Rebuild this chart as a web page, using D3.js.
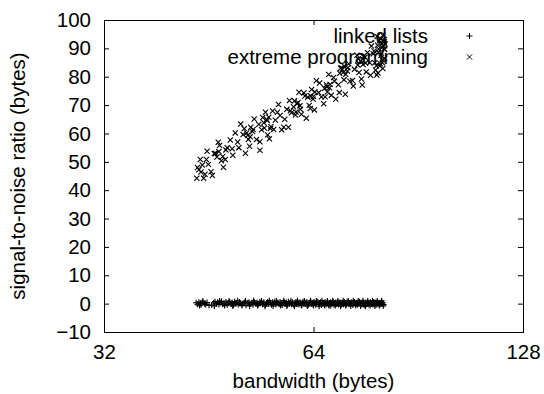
<!DOCTYPE html>
<html>
<head>
<meta charset="utf-8">
<script src="https://cdn.jsdelivr.net/npm/d3@7"></script>
<style>
  html, body { margin: 0; padding: 0; background: #fff; }
  svg { display: block; }
  text { font-family: "Liberation Sans", Arial, Helvetica, sans-serif; fill: #000; }
</style>
</head>
<body>
<svg id="chart" width="544" height="394"></svg>
<script>
// ---- data ----
const seriesNames = ["linked lists", "extreme programming"];
const xTickValues = [32, 64, 128];
const yTickValues = [-10, 0, 10, 20, 30, 40, 50, 60, 70, 80, 90, 100];
const xLabel = "bandwidth (bytes)";
const yLabel = "signal-to-noise ratio (bytes)";

const linkedLists = [
[43.4,0.3],[43.6,-0.2],[43.8,0.5],[44.0,0.1],[44.1,-0.4],[44.3,0.6],[44.6,0.0],[44.8,-0.3],[45.0,0.4],[45.3,-0.6],
[45.7,-0.5],[46.0,0.2],[46.2,0.7],[46.4,-0.1],[46.6,0.5],[46.8,-0.3],[47.0,0.3],[47.2,0.8],[47.4,-0.2],[47.6,0.1],
[47.9,0.6],[48.1,-0.4],[48.3,0.2],[48.5,0.5],[48.7,-0.1],[48.9,0.4],[49.1,-0.5],[49.3,0.7],[49.5,0.0],[49.7,0.3],
[49.9,-0.3],[50.1,0.6],[50.3,0.1],[50.6,-0.2],[50.9,0.4],[51.2,-0.6],[51.5,0.2],[51.7,0.5],[51.9,-0.1],[52.2,0.3],
[52.4,-0.4],[52.6,0.6],[52.9,0.0],[53.1,0.4],[53.3,-0.3],[53.6,0.7],[53.8,0.1],[54.1,-0.2],[54.3,0.5],[54.6,-0.5],
[54.8,0.2],[55.0,0.6],[55.2,-0.1],[55.5,0.3],[55.7,-0.4],[55.9,0.5],[56.1,0.0],[56.3,0.7],[56.5,-0.3],[56.7,0.2],
[56.9,0.4],[57.1,-0.2],[57.3,0.6],[57.5,0.1],[57.7,-0.5],[57.9,0.3],[58.1,0.5],[58.3,-0.1],[58.5,0.4],[58.7,-0.4],
[58.9,0.7],[59.1,0.0],[59.3,0.3],[59.5,-0.2],[59.7,0.5],[60.0,-0.6],[60.2,0.2],[60.4,0.6],[60.6,-0.1],[60.8,0.3],
[61.0,-0.3],[61.2,0.5],[61.4,0.1],[61.6,-0.4],[61.8,0.7],[62.0,0.0],[62.2,0.4],[62.4,-0.2],[62.6,0.6],[62.9,-0.5],
[63.1,0.2],[63.3,0.5],[63.5,-0.1],[63.7,0.3],[63.9,-0.3],[64.1,0.6],[64.3,0.1],[64.5,-0.4],[64.7,0.4],[64.9,0.7],
[65.1,-0.2],[65.3,0.2],[65.5,0.5],[65.7,-0.5],[65.9,0.0],[66.1,0.3],[66.3,-0.1],[66.5,0.6],[66.7,-0.3],[66.9,0.2],
[67.1,0.4],[67.3,-0.6],[67.5,0.1],[67.7,0.5],[67.9,-0.2],[68.1,0.3],[68.3,0.7],[68.5,-0.4],[68.7,0.0],[68.9,0.4],
[69.1,-0.1],[69.3,0.6],[69.5,-0.3],[69.7,0.2],[69.9,0.5],[70.1,-0.5],[70.3,0.1],[70.5,0.3],[70.7,-0.2],[70.9,0.6],
[71.1,0.0],[71.3,-0.4],[71.5,0.4],[71.7,0.7],[71.9,-0.1],[72.1,0.2],[72.3,-0.3],[72.5,0.5],[72.7,0.1],[72.9,-0.5],
[73.1,0.3],[73.3,0.6],[73.5,-0.2],[73.7,0.0],[73.9,0.4],[74.1,-0.4],[74.3,0.2],[74.5,0.7],[74.7,-0.1],[74.9,0.3],
[75.1,-0.3],[75.3,0.5],[75.5,0.0],[75.7,-0.6],[75.9,0.4],[76.1,0.2],[76.3,-0.2],[76.5,0.6],[76.7,0.1],[76.9,-0.4],
[77.1,0.3],[77.3,0.5],[77.5,-0.1],[77.7,0.2],[77.9,-0.3],[78.1,0.6],[78.3,0.0],[78.5,0.4],[78.7,-0.5],[78.9,0.2],
[79.1,0.5],[79.3,-0.2],[79.5,0.3],[79.7,-0.4],[79.9,0.1],[80.1,0.6],[80.3,-0.1],[80.5,0.3],[80.7,-0.3],
[43.9,-0.7],[44.4,0.9],[46.1,-0.8],[46.9,0.9],[47.7,-0.7],[48.4,0.9],[49.0,-0.8],[49.8,1.0],[50.5,-0.7],[51.1,0.9],
[51.8,-0.8],[52.5,1.0],[53.2,-0.7],[53.9,0.9],[54.5,-0.9],[55.3,1.0],[56.0,-0.8],[56.6,0.9],[57.4,-0.7],[58.0,1.0],
[58.6,-0.8],[59.4,0.9],[60.1,-0.9],[60.7,1.0],[61.5,-0.7],[62.1,0.9],[62.7,-0.8],[63.4,1.0],[64.0,-0.7],[64.6,0.9],
[65.2,-0.9],[65.8,1.0],[66.4,-0.7],[67.0,0.9],[67.6,-0.8],[68.2,1.0],[68.8,-0.7],[69.4,0.9],[70.0,-0.9],[70.6,1.0],
[71.2,-0.7],[71.8,0.9],[72.4,-0.8],[73.0,1.0],[73.6,-0.7],[74.2,0.9],[74.8,-0.8],[75.4,1.0],[76.0,-0.9],[76.6,0.9],
[77.2,-0.7],[77.8,1.0],[78.4,-0.8],[79.0,0.9],[79.6,-0.7],[80.2,1.0],[80.6,-0.8]
];

const extremeProgramming = [
[43.5,44.2],[43.6,48.0],[44.1,46.4],[44.0,50.8],[44.5,44.2],[44.9,50.8],[45.2,49.1],[45.0,53.7],[45.6,46.5],[46.1,52.9],
[45.8,45.2],[46.5,51.7],[46.9,55.8],[47.2,50.4],[46.7,56.9],[47.8,50.8],[48.1,55.0],[47.5,48.1],[48.6,57.7],[48.9,54.6],
[49.4,60.2],[49.0,52.3],[49.8,57.0],[50.3,63.3],[50.0,55.0],[50.7,59.6],[51.1,53.0],[50.9,61.7],[51.6,57.9],[52.0,62.2],
[51.8,55.5],[52.6,65.1],[52.3,60.7],[53.0,57.9],[53.4,63.2],[53.6,57.1],[54.1,65.6],[53.9,61.3],[54.6,67.5],[55.0,59.5],
[54.8,65.0],[55.5,61.7],[55.9,67.9],[55.3,58.1],[56.4,64.7],[56.8,67.5],[56.1,61.4],[57.3,66.3],[57.6,61.3],[57.0,70.2],
[58.2,65.0],[58.6,68.5],[58.0,62.2],[59.1,71.6],[59.5,67.3],[58.9,62.2],[60.1,71.5],[60.6,70.4],[60.3,66.5],[61.0,74.5],
[61.5,66.8],[61.2,69.8],[62.0,74.3],[62.5,65.4],[62.2,73.2],[63.1,69.9],[63.6,75.5],[63.3,68.8],[64.0,73.0],[64.6,78.6],
[64.2,68.3],[65.1,74.4],[65.7,72.9],[65.3,77.8],[66.2,70.5],[66.8,77.2],[66.5,72.9],[67.3,80.8],[67.9,73.5],[67.5,76.1],
[68.4,79.7],[68.9,72.1],[68.6,78.4],[69.5,77.2],[70.0,83.0],[69.7,74.4],[70.6,81.5],[71.1,73.8],[70.8,78.9],[71.7,83.2],
[72.2,78.4],[71.9,84.6],[72.8,78.7],[73.3,82.6],[73.0,76.7],[73.9,87.6],[74.4,81.5],[74.1,84.1],[75.0,79.2],[75.5,87.1],
[75.2,77.1],[76.0,84.8],[76.5,88.5],[76.2,81.7],[77.1,84.9],[77.5,90.8],[77.3,80.5],[78.0,88.1],[78.4,84.9],[78.2,89.1],
[78.9,80.6],[79.3,88.6],[79.1,91.1],[79.7,83.8],[80.0,87.6],[79.9,93.4],[80.4,84.9],[80.7,90.7],[80.5,82.9],[81.0,89.6],
[80.9,92.3],
[80.2,91.8],[80.6,92.6],[80.8,89.9],[81.1,91.5],[80.3,90.4],[79.6,92.7],[80.9,93.1],[81.0,86.4],[79.4,89.8],[80.1,88.3],
[78.6,82.4],[79.2,81.3],[79.8,84.6],[78.8,83.9],[80.3,86.0],[79.0,94.2],[80.5,94.6],
[74.8,85.6],[75.4,84.3],[75.9,86.9],[74.2,86.3],
[70.4,82.6],[71.2,80.9],[70.9,83.7],[71.6,82.0],[69.8,81.2],
[66.4,75.9],[67.0,74.6],[67.6,77.3],[66.9,76.4],
[63.4,73.2],[63.9,72.1],[64.3,74.6],[62.8,72.8],
[59.3,68.0],[59.9,69.4],[60.4,67.6],[60.8,70.9],[61.3,68.5],
[54.3,63.8],[54.9,64.6],[55.6,62.4],[55.2,65.7],[54.4,61.9],[53.6,54.1],
[51.3,60.2],[51.9,58.8],[52.4,61.4],[51.5,59.4],
[46.3,52.9],[46.8,53.6],[47.4,51.9],[47.9,54.2],
[44.3,48.9],[43.8,47.2],[44.7,45.6]
];

// ---- layout ----
const plot = { left: 104, right: 523, top: 20, bottom: 332 };
const fontSize = 20.5;
const tickLen = 5;

const svg = d3.select("#chart");

const x = d3.scaleLog().base(2).domain([32, 128]).range([plot.left, plot.right]);
const y = d3.scaleLinear().domain([-10, 100]).range([plot.bottom, plot.top]);

// axes (ticks inward)
const gBottom = svg.append("g").attr("transform", `translate(0,${plot.bottom})`)
  .call(d3.axisBottom(x).tickValues(xTickValues).tickFormat(d3.format("d"))
        .tickSizeInner(-tickLen).tickSizeOuter(0).tickPadding(12));
const gTop = svg.append("g").attr("transform", `translate(0,${plot.top})`)
  .call(d3.axisTop(x).tickValues(xTickValues).tickFormat("")
        .tickSizeInner(-tickLen).tickSizeOuter(0));
const gLeft = svg.append("g").attr("transform", `translate(${plot.left},0)`)
  .call(d3.axisLeft(y).tickValues(yTickValues).tickFormat(d3.format("d"))
        .tickSizeInner(-tickLen).tickSizeOuter(0).tickPadding(13));
const gRight = svg.append("g").attr("transform", `translate(${plot.right},0)`)
  .call(d3.axisRight(y).tickValues(yTickValues).tickFormat("")
        .tickSizeInner(-tickLen).tickSizeOuter(0));

[gBottom, gTop, gLeft, gRight].forEach(g => {
  g.select(".domain").remove();
  g.selectAll(".tick line").attr("stroke", "#000").attr("stroke-width", 1);
  g.selectAll(".tick text").attr("font-size", fontSize)
   .attr("font-family", "Liberation Sans, Arial, sans-serif").attr("fill", "#000");
});
gBottom.selectAll(".tick").filter(d => d === 32 || d === 128).select("line").remove();
gTop.selectAll(".tick").filter(d => d === 32 || d === 128).select("line").remove();
gLeft.selectAll(".tick").filter(d => d === -10 || d === 100).select("line").remove();
gRight.selectAll(".tick").filter(d => d === -10 || d === 100).select("line").remove();

// frame
svg.append("rect")
  .attr("x", plot.left + 0.5).attr("y", plot.top + 0.5)
  .attr("width", plot.right - plot.left).attr("height", plot.bottom - plot.top)
  .attr("fill", "none").attr("stroke", "#000").attr("stroke-width", 1);

// axis labels
svg.append("text")
  .attr("x", (plot.left + plot.right) / 2).attr("y", 388)
  .attr("text-anchor", "middle").attr("font-size", fontSize)
  .text(xLabel);
svg.append("text")
  .attr("transform", `translate(25,${(plot.top + plot.bottom) / 2}) rotate(-90)`)
  .attr("text-anchor", "middle").attr("font-size", fontSize)
  .text(yLabel);

// markers
const plusPath = "M-3,0H3M0,-3V3";
const crossPath = "M-2.6,-2.6L2.6,2.6M-2.6,2.6L2.6,-2.6";
const markerPaths = [plusPath, crossPath];

// legend (drawn before points so points overlay it)
const legendTextX = 428, legendMarkX = 469.5;
const legendY = [43, 64];
seriesNames.forEach((name, i) => {
  svg.append("text").attr("x", legendTextX).attr("y", legendY[i])
    .attr("text-anchor", "end").attr("font-size", fontSize).text(name);
  svg.append("path").attr("d", markerPaths[i])
    .attr("transform", `translate(${legendMarkX},${legendY[i] - 7})`)
    .attr("stroke", "#000").attr("stroke-width", 1).attr("fill", "none");
});

// points
[linkedLists, extremeProgramming].forEach((data, i) => {
  svg.append("g").selectAll("path").data(data).join("path")
    .attr("d", markerPaths[i])
    .attr("transform", d => `translate(${x(d[0])},${y(d[1])})`)
    .attr("stroke", "#000").attr("stroke-width", 1.1).attr("fill", "none");
});
</script>
</body>
</html>
